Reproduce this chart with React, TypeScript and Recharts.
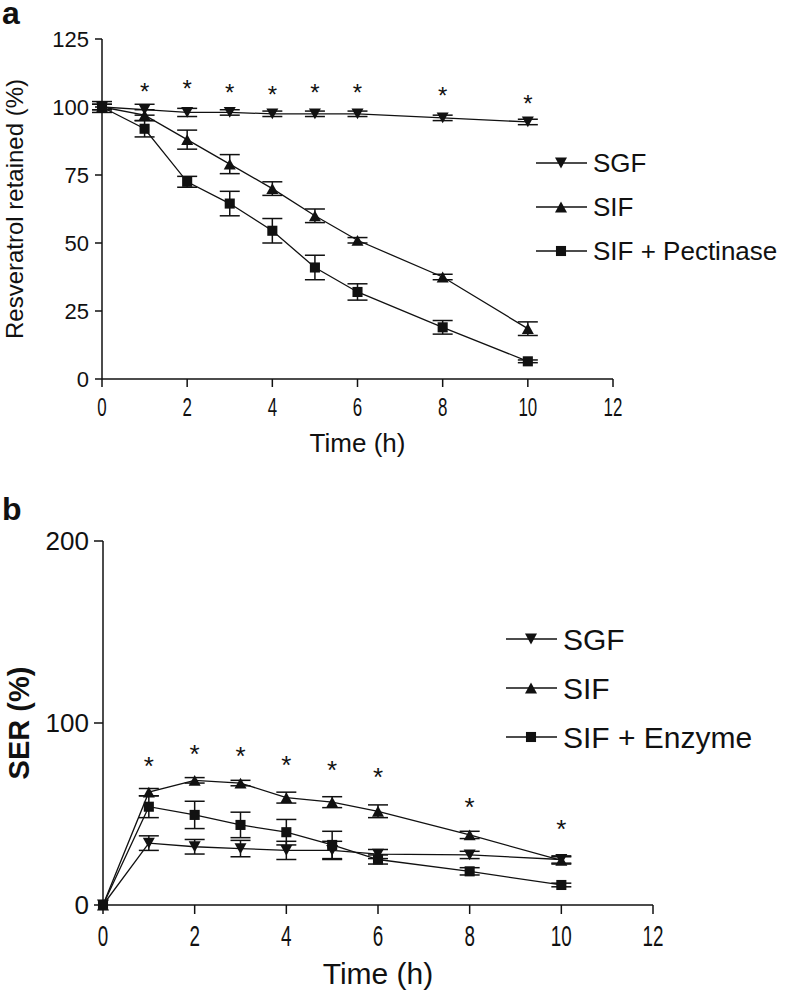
import React from 'react';
import { ComposedChart, Line, XAxis, YAxis, ErrorBar, Legend, Label } from 'recharts';

// ---------- Panel a data ----------
const timeA = [0, 1, 2, 3, 4, 5, 6, 8, 10];
const sgfA = [100, 99, 98, 98, 97.5, 97.5, 97.5, 96, 94.5];
const sgfAErr = [2, 2, 1.5, 1, 1, 1, 1, 1, 1];
const sifA = [100, 97, 88, 79, 70, 60, 51, 37.5, 18.5];
const sifAErr = [1, 2, 3.5, 3.5, 2.5, 2.5, 1, 1, 2.5];
const pecA = [100, 92, 72.5, 64.5, 54.5, 41, 32, 19, 6.5];
const pecAErr = [1, 3, 2, 4.5, 4.5, 4.5, 3, 2.5, 0.5];
const starsA = [null, 107.5, 108.5, 107, 106.5, 107, 107, 106, 103];
const yTicksA = [0, 25, 50, 75, 100, 125];

// ---------- Panel b data ----------
const timeB = [0, 1, 2, 3, 4, 5, 6, 8, 10];
const sgfB = [0, 34, 32, 31, 30, 30, 28, 27.5, 25];
const sgfBErr = [0, 4, 4, 4.5, 5, 5, 2.5, 2, 2];
const sifB = [0, 62, 68.5, 67, 59, 56.5, 51.5, 38.5, 24.5];
const sifBErr = [0, 2, 1.5, 1.5, 3, 3, 3.5, 2, 2];
const enzB = [0, 54, 49.5, 44, 40, 33, 25, 18.5, 11];
const enzBErr = [0, 6, 7.5, 7, 7, 7.5, 2.5, 2, 1];
const starsB = [null, 79.5, 86, 85, 80, 77, 73.5, 56.5, 44.5];
const yTicksB = [0, 100, 200];

const xTicks = [0, 2, 4, 6, 8, 10, 12];

const legendA = ['SGF', 'SIF', 'SIF + Pectinase'];
const legendB = ['SGF', 'SIF', 'SIF + Enzyme'];

const dataA = timeA.map((t, i) => ({
  t, sgf: sgfA[i], sgfE: sgfAErr[i], sif: sifA[i], sifE: sifAErr[i], pec: pecA[i], pecE: pecAErr[i], star: starsA[i],
}));
const dataB = timeB.map((t, i) => ({
  t, sgf: sgfB[i], sgfE: sgfBErr[i], sif: sifB[i], sifE: sifBErr[i], enz: enzB[i], enzE: enzBErr[i], star: starsB[i],
}));

const FONT = "'Liberation Sans', Arial, Helvetica, sans-serif";
const INK = '#111';

type Shape = 'down' | 'up' | 'square';

const markerEl = (shape: Shape, cx: number, cy: number, s: number, key?: any) => {
  if (shape === 'square') {
    const h = s * 0.42;
    return <rect key={key} x={cx - h} y={cy - h} width={2 * h} height={2 * h} fill={INK} />;
  }
  const w = s / 2;
  const hh = s * 0.45;
  const pts = shape === 'down'
    ? `${cx - w},${cy - hh} ${cx + w},${cy - hh} ${cx},${cy + hh}`
    : `${cx - w},${cy + hh} ${cx + w},${cy + hh} ${cx},${cy - hh}`;
  return <polygon key={key} points={pts} fill={INK} />;
};

const makeDot = (shape: Shape, s: number) => (p: any) => {
  if (p == null || p.cx == null || p.cy == null || p.value == null) return <g key={p?.key} />;
  return markerEl(shape, p.cx, p.cy, s, p.key);
};

const makeStar = (fs: number) => (p: any) => {
  if (p == null || p.cx == null || p.cy == null || p.value == null) return <g key={p?.key} />;
  return (
    <text key={p.key} x={p.cx} y={p.cy + fs * 0.55} textAnchor="middle" fontSize={fs} fontFamily={FONT} fill={INK}>*</text>
  );
};

const makeXTick = (fs: number, sx: number) => (props: any) => {
  const { x, y, payload } = props;
  return (
    <g transform={`translate(${x},${y})`}>
      <text x={0} y={fs * 0.72} textAnchor="middle" transform={`scale(${sx},1)`} fontSize={fs} fontFamily={FONT} fill={INK}>
        {payload.value}
      </text>
    </g>
  );
};

const makeLegend = (labels: string[], shapes: Shape[], fs: number, gap: number, ms: number) => () => (
  <svg width={260} height={gap * 2 + 60} style={{ overflow: 'visible' }}>
    {labels.map((l, i) => {
      const y = 30 + i * gap;
      return (
        <g key={l}>
          <line x1={0} x2={51} y1={y} y2={y} stroke={INK} strokeWidth={1.4} />
          {markerEl(shapes[i], 25, y, ms)}
          <text x={57} y={y} dominantBaseline="central" fontSize={fs} fontFamily={FONT} fill={INK}>{l}</text>
        </g>
      );
    })}
  </svg>
);

const YTitle = (props: any) => {
  const { viewBox, value, dx, fs, bold } = props;
  const cx = viewBox.x + dx;
  const cy = viewBox.y + viewBox.height / 2;
  return (
    <text x={cx} y={cy} transform={`rotate(-90 ${cx} ${cy})`} textAnchor="middle" dominantBaseline="central"
      fontSize={fs} fontWeight={bold ? 'bold' : 'normal'} fontFamily={FONT} fill={INK}>{value}</text>
  );
};

const XTitle = (props: any) => {
  const { viewBox, value, dy, fs } = props;
  const cx = viewBox.x + viewBox.width / 2;
  const cy = viewBox.y + dy;
  return (
    <text x={cx} y={cy} textAnchor="middle" dominantBaseline="central" fontSize={fs} fontFamily={FONT} fill={INK}>{value}</text>
  );
};

const lineProps = { stroke: INK, strokeWidth: 1.3, isAnimationActive: false, activeDot: false as any, legendType: 'none' as any };

export default function App() {
  return (
    <div style={{ position: 'absolute', left: 0, top: 0, width: 793, height: 990, background: '#fff', overflow: 'hidden' }}>
      {/* panel letters */}
      <svg style={{ position: 'absolute', left: 0, top: 0 }} width={40} height={40}>
        <text x={2} y={24} fontSize={32} fontWeight="bold" fontFamily={FONT} fill={INK}>a</text>
      </svg>
      <svg style={{ position: 'absolute', left: 0, top: 480 }} width={40} height={50}>
        <text x={2} y={40} fontSize={32} fontWeight="bold" fontFamily={FONT} fill={INK}>b</text>
      </svg>

      {/* Panel a */}
      <div style={{ position: 'absolute', left: 0, top: 0 }}>
        <ComposedChart width={793} height={480} data={dataA} margin={{ top: 39, right: 180, left: 0, bottom: 1 }}>
          <XAxis dataKey="t" type="number" domain={[0, 12]} ticks={xTicks} interval={0}
            axisLine={{ stroke: INK, strokeWidth: 1.5 }} tickLine={{ stroke: INK, strokeWidth: 1.5 }}
            tickSize={8} tickMargin={10} height={100} tick={makeXTick(26, 0.65)}>
            <Label content={<XTitle value="Time (h)" dy={64} fs={26} />} />
          </XAxis>
          <YAxis type="number" domain={[0, 125]} ticks={yTicksA} interval={0} width={102}
            axisLine={{ stroke: INK, strokeWidth: 1.5 }} tickLine={{ stroke: INK, strokeWidth: 1.5 }}
            tickSize={7} tickMargin={6} tick={{ fontSize: 22, fill: INK, fontFamily: FONT }}>
            <Label content={<YTitle value="Resveratrol retained (%)" dx={14} fs={24} />} />
          </YAxis>
          <Legend layout="vertical" align="center" verticalAlign="middle"
            content={makeLegend(legendA, ['down', 'up', 'square'], 26, 44, 12)}
            wrapperStyle={{ position: 'absolute', left: 536, top: 133, width: 260 }} />
          <Line dataKey="sif" {...lineProps} dot={makeDot('up', 12)}>
            <ErrorBar dataKey="sifE" width={10} stroke={INK} strokeWidth={1.5} direction="y" />
          </Line>
          <Line dataKey="pec" {...lineProps} dot={makeDot('square', 12)}>
            <ErrorBar dataKey="pecE" width={10} stroke={INK} strokeWidth={1.5} direction="y" />
          </Line>
          <Line dataKey="sgf" {...lineProps} dot={makeDot('down', 12)}>
            <ErrorBar dataKey="sgfE" width={10} stroke={INK} strokeWidth={1.5} direction="y" />
          </Line>
          <Line dataKey="star" stroke="none" isAnimationActive={false} activeDot={false as any} legendType="none" dot={makeStar(24)} />
        </ComposedChart>
      </div>

      {/* Panel b */}
      <div style={{ position: 'absolute', left: 0, top: 480 }}>
        <ComposedChart width={793} height={510} data={dataB} margin={{ top: 61, right: 140, left: 0, bottom: 5 }}>
          <XAxis dataKey="t" type="number" domain={[0, 12]} ticks={xTicks} interval={0}
            axisLine={{ stroke: INK, strokeWidth: 1.5 }} tickLine={{ stroke: INK, strokeWidth: 1.5 }}
            tickSize={9} tickMargin={11} height={80} tick={makeXTick(29, 0.65)}>
            <Label content={<XTitle value="Time (h)" dy={68} fs={30} />} />
          </XAxis>
          <YAxis type="number" domain={[0, 200]} ticks={yTicksB} interval={0} width={103}
            axisLine={{ stroke: INK, strokeWidth: 1.5 }} tickLine={{ stroke: INK, strokeWidth: 1.5 }}
            tickSize={9} tickMargin={5} tick={{ fontSize: 26, fill: INK, fontFamily: FONT }}>
            <Label content={<YTitle value="SER (%)" dx={19} fs={29} bold />} />
          </YAxis>
          <Legend layout="vertical" align="center" verticalAlign="middle"
            content={makeLegend(legendB, ['down', 'up', 'square'], 30, 49, 12)}
            wrapperStyle={{ position: 'absolute', left: 506, top: 129, width: 280 }} />
          <Line dataKey="sif" {...lineProps} dot={makeDot('up', 12)}>
            <ErrorBar dataKey="sifE" width={10} stroke={INK} strokeWidth={1.5} direction="y" />
          </Line>
          <Line dataKey="enz" {...lineProps} dot={makeDot('square', 12)}>
            <ErrorBar dataKey="enzE" width={10} stroke={INK} strokeWidth={1.5} direction="y" />
          </Line>
          <Line dataKey="sgf" {...lineProps} dot={makeDot('down', 12)}>
            <ErrorBar dataKey="sgfE" width={10} stroke={INK} strokeWidth={1.5} direction="y" />
          </Line>
          <Line dataKey="star" stroke="none" isAnimationActive={false} activeDot={false as any} legendType="none" dot={makeStar(26)} />
        </ComposedChart>
      </div>
    </div>
  );
}
